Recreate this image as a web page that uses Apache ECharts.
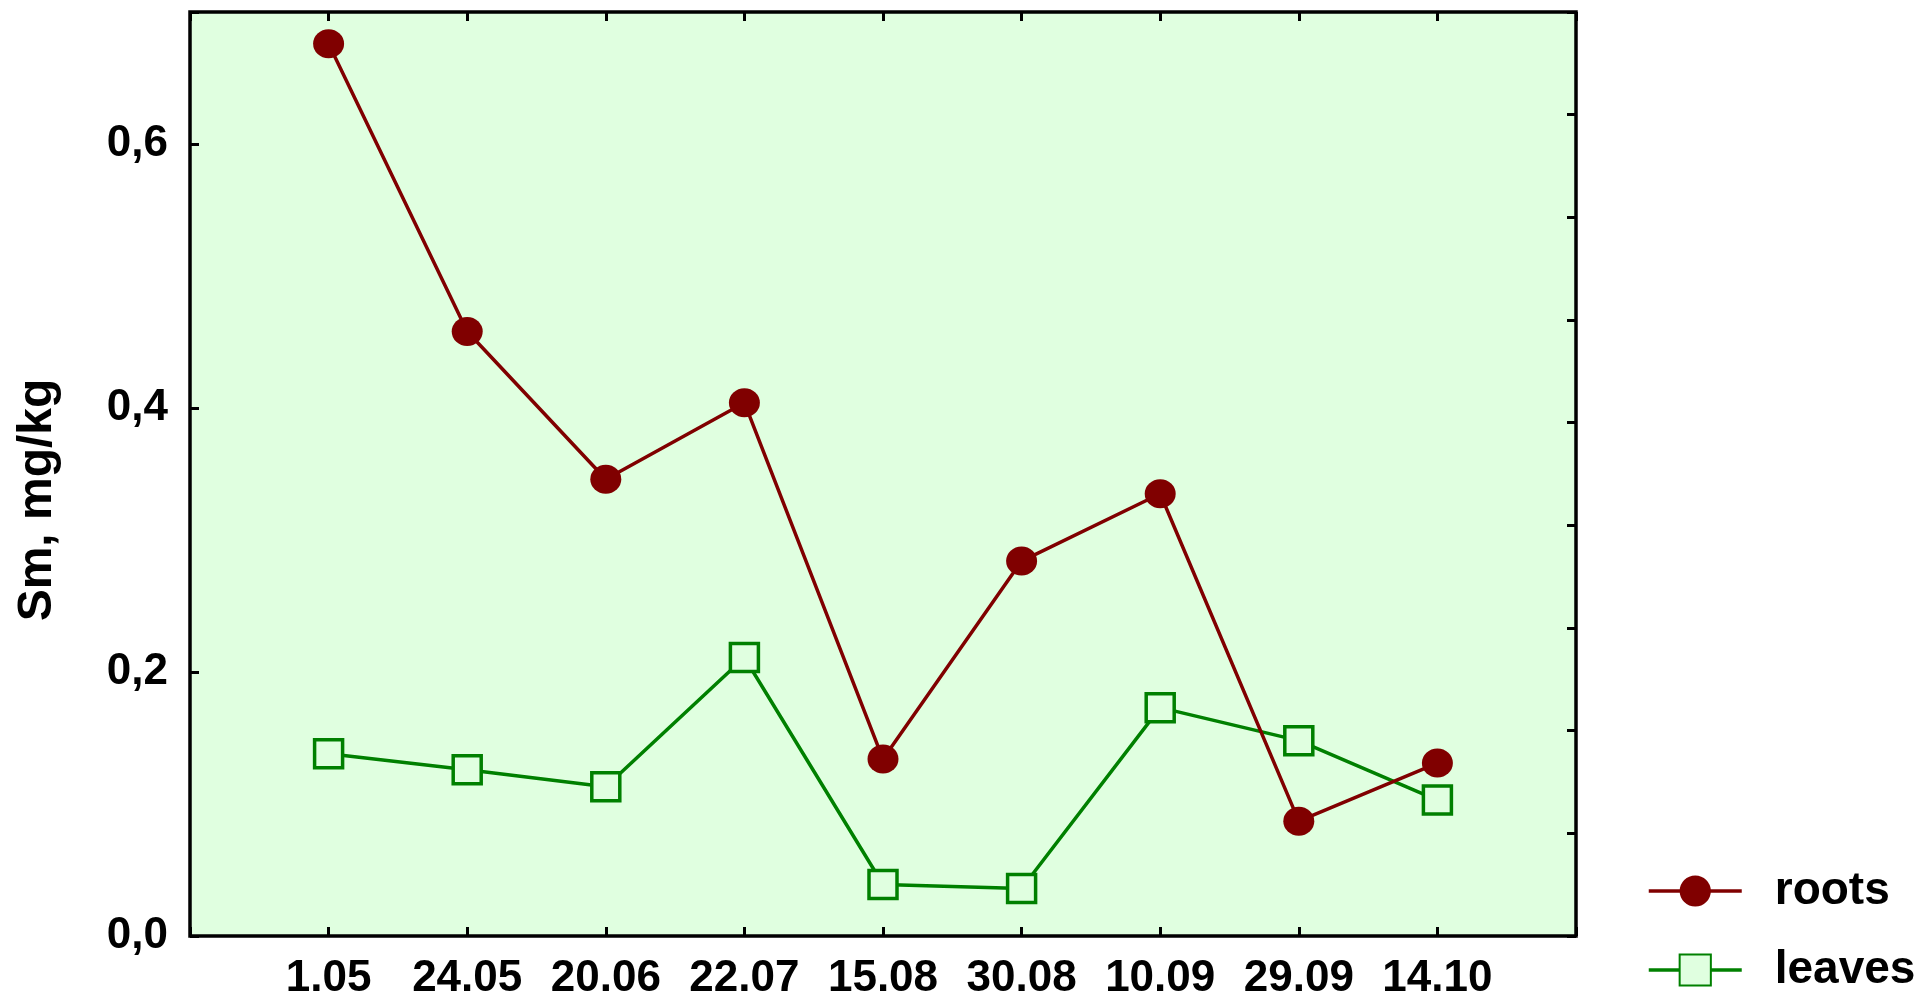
<!DOCTYPE html>
<html>
<head>
<meta charset="utf-8">
<title>Sm, mg/kg</title>
<script src="https://cdn.jsdelivr.net/npm/echarts@6/dist/echarts.min.js"></script>
<style>
  html, body { margin: 0; padding: 0; background: #fff; }
  #main { width: 1926px; height: 997px; }
</style>
</head>
<body>
<div id="main"></div>
<script>
// 采样日期
const dates = ['1.05', '24.05', '20.06', '22.07', '15.08', '30.08', '10.09', '29.09', '14.10']
// 根
const roots = [0.676, 0.458, 0.346, 0.404, 0.134, 0.284, 0.335, 0.087, 0.131]
// 叶
const leaves = [0.138, 0.126, 0.113, 0.211, 0.039, 0.036, 0.173, 0.148, 0.103]
const yTicks = [0, 0.2, 0.4, 0.6]

const font = "'Liberation Sans', Arial, sans-serif"
const chart = echarts.init(document.getElementById('main'))

// 点位放在 1..9，两边各留一格
const toPoints = (arr) => arr.map((v, i) => [i + 1, v])

const tickStyle = {
  show: true,
  inside: true,
  length: 9,
  lineStyle: { color: '#000', width: 3 },
}
// 轴线不画（用 grid 边框），也不要贴到 0 上
const noLine = { show: false, onZero: false }

const option = {
  animation: false,
  grid: {
    left: 190,
    right: 350,
    top: 12,
    bottom: 61,
    outerBoundsMode: 'none',
    show: true,
    backgroundColor: '#E0FFE0',
    borderColor: '#000',
    borderWidth: 3.5,
  },
  legend: {
    orient: 'vertical',
    left: 1642,
    top: 863,
    height: 200,
    itemWidth: 93,
    itemHeight: 39,
    itemGap: 33,
    data: ['roots', 'leaves'],
    lineStyle: { width: 3.5 },
    textStyle: {
      fontFamily: font,
      fontWeight: 'bold',
      fontSize: 46,
      color: '#000',
      lineHeight: 40,
      padding: [0, 0, 0, 28],
    },
  },
  xAxis: [
    {
      type: 'value',
      min: 0,
      max: 10,
      interval: 1,
      position: 'bottom',
      axisLine: noLine,
      axisTick: tickStyle,
      splitLine: { show: false },
      axisLabel: {
        margin: 21,
        fontFamily: font,
        fontWeight: 'bold',
        fontSize: 44,
        color: '#000',
        formatter: function (value) {
          return dates[value - 1] || ''
        },
      },
    },
    {
      type: 'value',
      min: 0,
      max: 10,
      interval: 1,
      position: 'top',
      axisLine: noLine,
      axisTick: tickStyle,
      splitLine: { show: false },
      axisLabel: { show: false },
    },
  ],
  yAxis: [
    {
      type: 'value',
      min: 0,
      max: 0.7,
      interval: 0.2,
      position: 'left',
      name: 'Sm, mg/kg',
      nameLocation: 'middle',
      nameGap: 128,
      nameTextStyle: {
        fontFamily: font,
        fontWeight: 'bold',
        fontSize: 48,
        color: '#000',
        // 往下挪一点
        padding: [0, 52, 0, 0],
      },
      axisLine: noLine,
      axisTick: tickStyle,
      splitLine: { show: false },
      axisLabel: {
        margin: 22,
        fontFamily: font,
        fontWeight: 'bold',
        fontSize: 44,
        color: '#000',
        formatter: function (value) {
          // 只显示 0,0 0,2 0,4 0,6
          if (!yTicks.some((t) => Math.abs(t - value) < 1e-6)) return ''
          return value.toFixed(1).replace('.', ',')
        },
      },
    },
    {
      // 右侧只有刻度
      type: 'value',
      min: 0,
      max: 0.7,
      interval: 0.7 / 9,
      position: 'right',
      axisLine: noLine,
      axisTick: tickStyle,
      splitLine: { show: false },
      axisLabel: { show: false },
    },
  ],
  series: [
    {
      name: 'roots',
      type: 'line',
      data: toPoints(roots),
      symbol: 'circle',
      symbolSize: [31, 29],
      lineStyle: { color: '#800000', width: 3.5 },
      itemStyle: { color: '#800000' },
      z: 3,
    },
    {
      name: 'leaves',
      type: 'line',
      data: toPoints(leaves),
      symbol: 'rect',
      symbolSize: 28,
      lineStyle: { color: '#008000', width: 3.5 },
      itemStyle: { color: '#E0FFE0', borderColor: '#008000', borderWidth: 3.5 },
      z: 2,
    },
  ],
}

chart.setOption(option)
</script>
</body>
</html>
